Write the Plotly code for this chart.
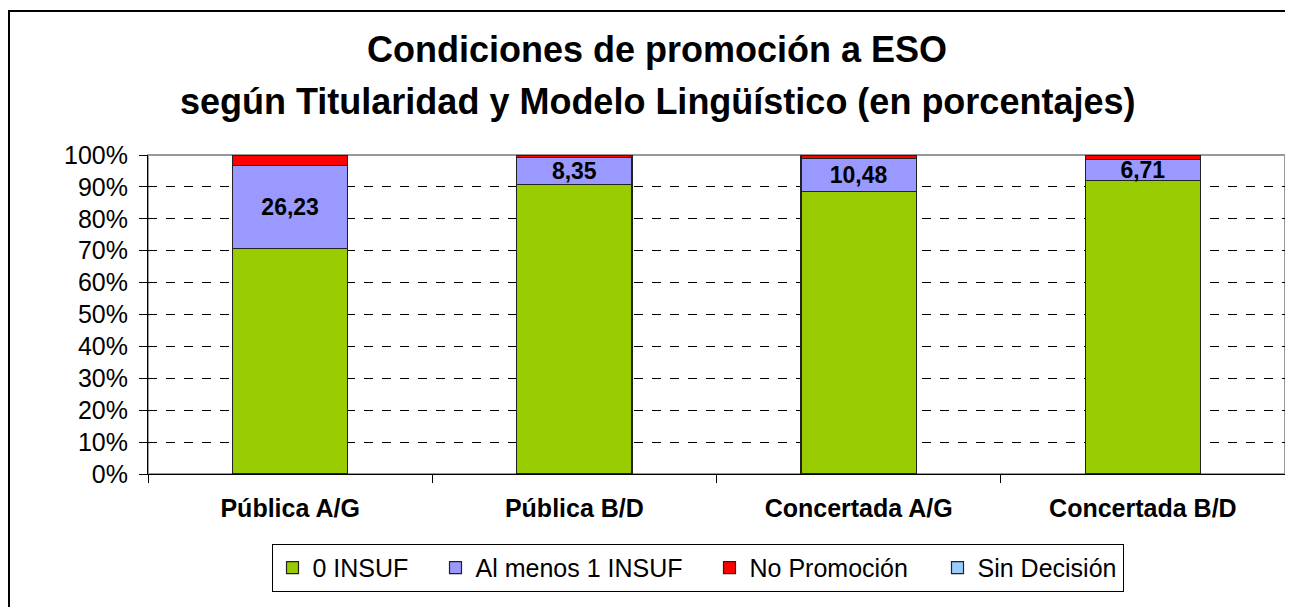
import plotly.graph_objects as go

categories = ["Pública A/G", "Pública B/D", "Concertada A/G", "Concertada B/D"]
cero_insuf = [70.6, 90.75, 88.5, 92.0]
al_menos_1 = [26.23, 8.35, 10.48, 6.71]
no_promocion = [2.9, 0.65, 0.8, 1.1]
sin_decision = [0.27, 0.25, 0.22, 0.19]
title_lines = ["Condiciones de promoción a ESO",
               "según Titularidad y Modelo Lingüístico (en porcentajes)"]

series = [
    ("0 INSUF", cero_insuf, "#99CC00", 118),
    ("Al menos 1 INSUF", al_menos_1, "#9999FF", 229),
    ("No Promoción", no_promocion, "#FF0000", 183),
    ("Sin Decisión", sin_decision, "#99CCFF", 140),
]

FONT = "Liberation Sans, Arial, sans-serif"
# page has 8px body margin -> figure 1285x599
W, H = 1285, 599
ML, MR, MT, MB = 140, 8, 147, 133
PW, PH = W - ML - MR, H - MT - MB

fig = go.Figure()
for name, vals, color, lw in series:
    kw = {}
    if name == "Al menos 1 INSUF":
        kw = dict(
            text=[f"{v:.2f}".replace(".", ",") for v in vals],
            textposition="inside",
            insidetextanchor="middle",
            textfont=dict(family=FONT, size=23, color="black", weight="bold"),
            constraintext="none",
        )
    fig.add_trace(go.Bar(
        name=name, x=categories, y=vals, legendwidth=lw,
        marker=dict(color=color, line=dict(color="#222222", width=1.2)),
        **kw,
    ))

fig.update_layout(
    barmode="stack",
    bargap=0.595,
    width=W, height=H,
    margin=dict(l=ML, r=MR, t=MT, b=MB),
    paper_bgcolor="white", plot_bgcolor="white",
    font=dict(family=FONT, color="black"),
    uniformtext=dict(minsize=23, mode="show"),
    legend=dict(
        orientation="h", x=(697.5 - 8 - ML) / PW, xanchor="center",
        y=-0.219, yanchor="top",
        bordercolor="black", borderwidth=1, font=dict(size=25, family=FONT),
        traceorder="normal", itemclick=False,
    ),
    showlegend=True,
)
for i, (line, ypix) in enumerate(zip(title_lines, [42, 94])):
    fig.add_annotation(
        text=f"<b>{line}</b>", xref="paper", yref="paper",
        x=(657 - 8 - ML) / PW, y=(H - MB - ypix) / PH,
        xanchor="center", yanchor="middle", showarrow=False,
        font=dict(size=36, family=FONT, color="black"),
    )
fig.update_yaxes(
    range=[0, 100], dtick=10, ticksuffix="%",
    showgrid=True, gridcolor="black", griddash="dash", gridwidth=1,
    showline=True, linecolor="black", linewidth=1,
    ticks="outside", ticklen=8, tickcolor="black",
    tickfont=dict(size=25, family=FONT), zeroline=False,
    ticklabelstandoff=6,
)
fig.update_xaxes(
    showline=True, linecolor="black", linewidth=1,
    ticks="outside", ticklen=8, tickcolor="black", tickson="boundaries",
    tickfont=dict(size=25, family=FONT, weight="bold"),
    ticklabelstandoff=12, showgrid=False,
)
# gray plot-area border (top & right)
fig.add_shape(type="rect", xref="x domain", yref="y domain", x0=0, x1=1, y0=0, y1=1,
              line=dict(color="#999999", width=2), layer="below")
# outer chart border
fig.add_shape(type="rect", xref="paper", yref="paper",
              x0=(-ML + 1) / PW, x1=(W - ML + 20) / PW,
              y0=-0.6, y1=(PH + MT - 3) / PH,
              line=dict(color="black", width=2), layer="below")

fig.write_html("out.html")
